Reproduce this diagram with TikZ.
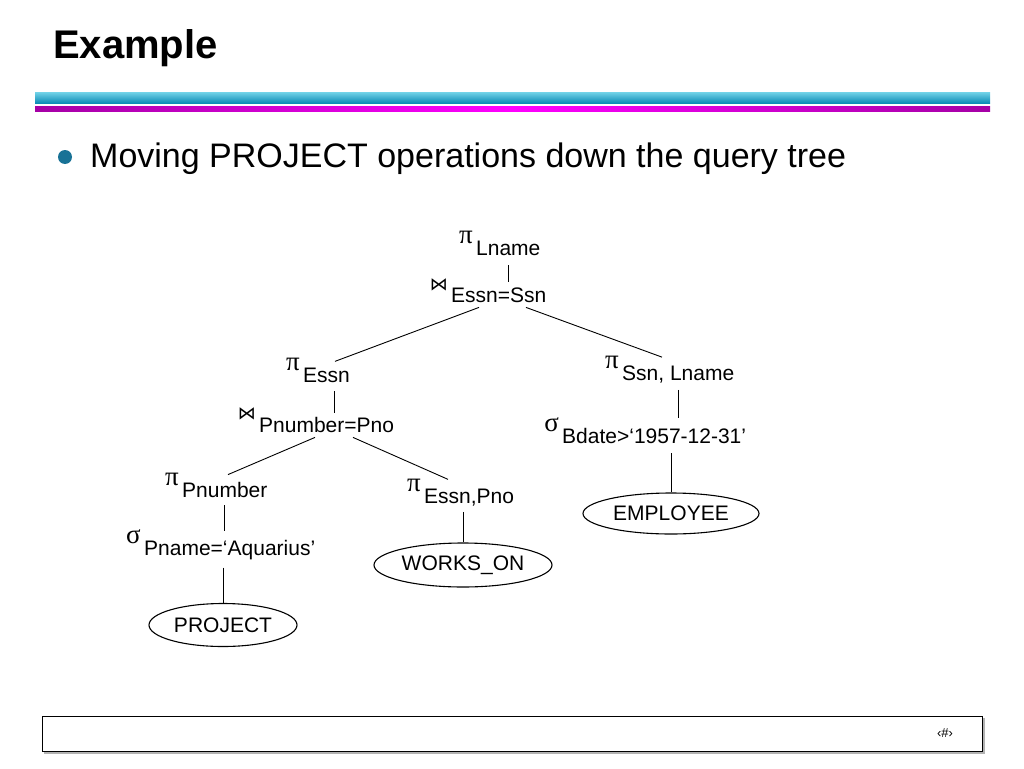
\documentclass[tikz,border=0pt]{standalone}
\usepackage{fontspec}
\setmainfont{Liberation Sans}
\newfontfamily\greekfont{Liberation Serif}
\newfontfamily\symfont{DejaVu Sans}
\usetikzlibrary{shapes.geometric}

\definecolor{barcyanlight}{RGB}{110,208,230}
\definecolor{barcyan}{RGB}{18,168,206}
\definecolor{barcyandark}{RGB}{12,140,182}
\definecolor{barmagenta}{RGB}{255,0,255}
\definecolor{barpurple}{RGB}{165,0,165}
\definecolor{bulletblue}{RGB}{24,114,150}

\newcommand{\projop}{{\greekfont\fontsize{27}{27}\selectfont π}}
\newcommand{\selop}{{\greekfont\fontsize{27}{27}\selectfont σ}}
\newcommand{\joinop}{{\symfont\fontsize{18}{18}\selectfont ⋈}}

\tikzset{
  optext/.style={anchor=base west, inner sep=0pt, font=\fontsize{21}{25}\selectfont},
  opsym/.style={inner sep=0pt, xshift=-3pt, yshift=-4pt},
  relation/.style={draw, ellipse, line width=1.1pt, inner sep=0pt, font=\fontsize{21}{25}\selectfont},
  link/.style={line width=0.9pt}
}

\begin{document}
\begin{tikzpicture}[x=1pt,y=-1pt]
  \useasboundingbox (0,0) rectangle (1024,768);

  % header
  \node[anchor=base west, inner sep=0pt, font=\bfseries\fontsize{40}{48}\selectfont] (title) at (53,59) {Example};
  \shade[top color=barcyanlight, middle color=barcyan, bottom color=barcyandark] (35,92.5) rectangle (990,103);
  \shade[left color=barpurple, right color=barpurple, middle color=barmagenta] (35,106) rectangle (990,111);
  \fill[bulletblue] (65,157) circle (7pt);
  \node[anchor=base west, inner sep=0pt, font=\fontsize{34}{40}\selectfont] (intro) at (90,167) {Moving PROJECT operations down the query tree};

  % query tree
  \node[optext, label={[opsym]north west:\projop}] (pL) at (476,255) {Lname};
  \node[optext, label={[opsym]north west:\joinop}] (jE) at (451,302) {Essn=Ssn};
  \node[optext, label={[opsym]north west:\projop}] (pE) at (303,382) {Essn};
  \node[optext, label={[opsym]north west:\joinop}] (jP) at (259,432) {Pnumber=Pno};
  \node[optext, label={[opsym]north west:\projop}] (pP) at (182,497) {Pnumber};
  \node[optext, label={[opsym]north west:\selop}] (sP) at (144,555) {Pname=‘Aquarius’};
  \node[optext, label={[opsym]north west:\projop}] (pW) at (424,503) {Essn,Pno};
  \node[optext, label={[opsym]north west:\projop}] (pS) at (622,380) {Ssn, Lname};
  \node[optext, label={[opsym]north west:\selop}] (sB) at (562,443) {Bdate>‘1957-12-31’};

  \node[relation, minimum width=148pt, minimum height=43pt] (proj) at (223,625) {PROJECT};
  \node[relation, minimum width=178pt, minimum height=44pt] (works) at (463,565) {WORKS\_ON};
  \node[relation, minimum width=176pt, minimum height=41pt] (emp) at (671,513.5) {EMPLOYEE};

  \draw[link] ([yshift=-10pt]pL.south) -- ([yshift=5pt]pL.south |- jE.north);
  \draw[link] ([xshift=28pt,yshift=-5pt]jE.south west) -- ([xshift=32pt,yshift=6pt]pE.north west);
  \draw[link] ([xshift=75pt,yshift=-5pt]jE.south west) -- ([xshift=40pt,yshift=8pt]pS.north west);
  \draw[link] ([xshift=31pt,yshift=-9pt]pE.south west) -- ([xshift=31pt,yshift=4pt]pE.south west |- jP.north);
  \draw[link] ([xshift=56pt,yshift=-5pt]jP.south west) -- ([xshift=46pt,yshift=7pt]pP.north west);
  \draw[link] ([xshift=94pt,yshift=-5pt]jP.south west) -- ([xshift=24pt,yshift=9pt]pW.north west);
  \draw[link] ([yshift=-8pt]pP.south) -- ([yshift=9pt]pP.south |- sP.north);
  \draw[link] ([yshift=-8pt]proj.north |- sP.south) -- (proj.north);
  \draw[link] ([yshift=-6pt]works.north |- pW.south) -- (works.north);
  \draw[link] ([yshift=-7pt]pS.south) -- ([yshift=10pt]pS.south |- sB.north);
  \draw[link] ([yshift=-10pt]emp.north |- sB.south) -- (emp.north);

  % footer
  \draw[gray!60, line width=2pt] (44,752.5) -- (983.5,752.5) -- (983.5,718);
  \draw[line width=0.8pt] (42,716) rectangle (982,751);
  \node[font=\fontsize{13}{13}\selectfont] (pagenum) at (945,733) {‹\#›};
\end{tikzpicture}
\end{document}
